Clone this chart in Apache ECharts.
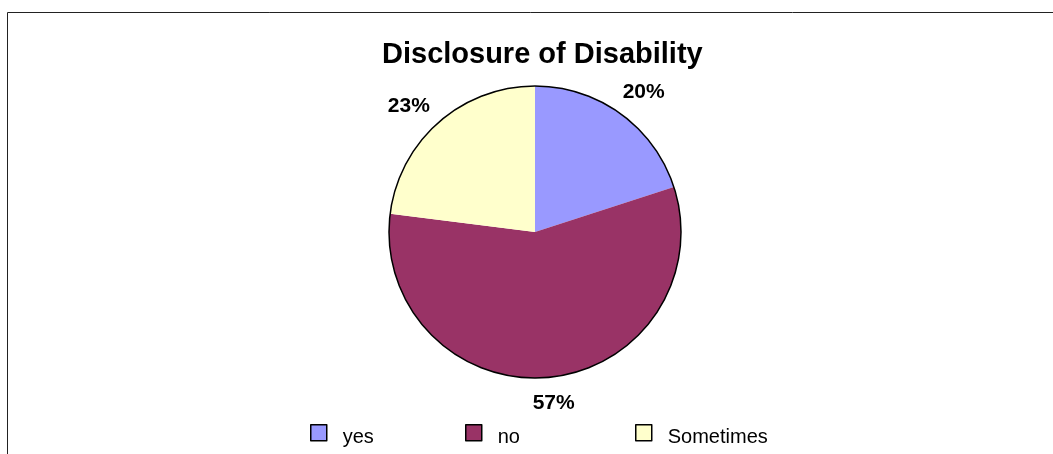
<!DOCTYPE html>
<html>
<head>
<meta charset="utf-8">
<script src="https://cdn.jsdelivr.net/npm/echarts@6/dist/echarts.min.js"></script>
<style>
html,body{margin:0;padding:0;background:#fff;}
#c{width:1053px;height:454px;}
</style>
</head>
<body>
<div id="c"></div>
<script>
var titleText = 'Disclosure of Disability';
var categories = ['yes', 'no', 'Sometimes'];
var values = [20, 57, 23];
var colors = ['#9999FF', '#993366', '#FFFFCC'];

// label nudges (pixels) to mimic Excel's "best fit" label placement
var labelNudge = [[-9, -14], [-22, 16], [3, -9]];
var legendLeft = [310, 465, 635];

var chart = echarts.init(document.getElementById('c'), null, {renderer: 'canvas'});
var data = categories.map(function (c, i) {
  return {name: c, value: values[i], itemStyle: {color: colors[i]}};
});
// square marker drawn in the upper part of a 16x26 cell so the text sits slightly lower
var markerIcon = 'path://M0,0L16,0L16,16L0,16Z M0,26L0.001,26';
var legends = categories.map(function (c, i) {
  return {
    data: [c],
    left: legendLeft[i],
    top: 424,
    padding: 0,
    itemWidth: 16,
    itemHeight: 26,
    icon: markerIcon,
    selectedMode: false,
    itemStyle: {borderColor: '#000', borderWidth: 1.5},
    textStyle: {fontFamily: 'Liberation Sans, Arial, sans-serif', fontSize: 20, color: '#000', padding: [0, 0, 0, 11]}
  };
});
var option = {
  animation: false,
  backgroundColor: '#ffffff',
  title: {
    text: titleText,
    left: 382,
    top: 40,
    padding: 0,
    textStyle: {fontFamily: 'Liberation Sans, Arial, sans-serif', fontSize: 29, fontWeight: 'bold', color: '#000'}
  },
  legend: legends,
  graphic: [{
    type: 'rect',
    shape: {x: 7.5, y: 12.5, width: 1100, height: 500},
    style: {fill: 'none', stroke: '#222', lineWidth: 1},
    silent: true
  }],
  series: [{
    type: 'pie',
    center: [535, 232],
    radius: 146,
    startAngle: 90,
    clockwise: true,
    data: data,
    itemStyle: {borderWidth: 0},
    label: {
      show: true,
      position: 'outside',
      formatter: '{d}%',
      fontFamily: 'Liberation Sans, Arial, sans-serif',
      fontSize: 21,
      fontWeight: 'bold',
      color: '#000'
    },
    labelLine: {show: false, length: 10, length2: 0},
    labelLayout: function (p) {
      var n = labelNudge[p.dataIndex] || [0, 0];
      return {dx: n[0], dy: n[1]};
    },
    emphasis: {disabled: true}
  }, {
    type: 'pie',
    center: [535, 232],
    radius: 146,
    silent: true,
    data: [{name: '_outline', value: 1}],
    itemStyle: {color: 'rgba(0,0,0,0)', borderColor: '#000', borderWidth: 1.5},
    label: {show: false},
    labelLine: {show: false},
    emphasis: {disabled: true}
  }]
};
chart.setOption(option);
</script>
</body>
</html>
